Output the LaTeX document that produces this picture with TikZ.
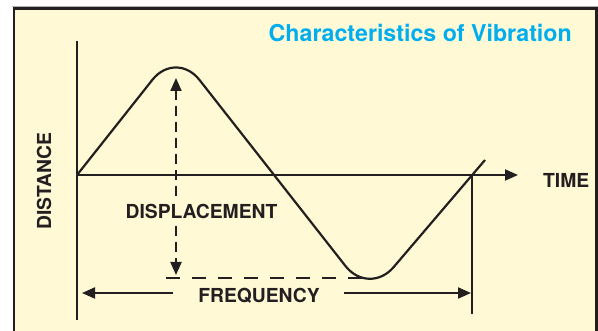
\documentclass[tikz,border=0pt]{standalone}
\usepackage{fontspec}
\setmainfont{TeX Gyre Heros}
\usepackage{xcolor}
\usepackage{tikz}
\usetikzlibrary{arrows.meta, positioning}

\definecolor{cream}{HTML}{FFF9D6}
\definecolor{ink}{HTML}{231F20}
\definecolor{titleblue}{HTML}{00AEEF}

\tikzset{
  axis/.style={draw=ink, line width=2pt},
  tip/.style={-{Triangle[length=13pt,width=11pt]}},
  dashline/.style={draw=ink, line width=2pt, dash pattern=on 10pt off 6pt},
  lbl/.style={inner sep=0pt, anchor=base, text=ink, font=\fontsize{19.3}{21}\selectfont\bfseries}
}

\begin{document}
\begin{tikzpicture}[x=1pt, y=-1pt]
\useasboundingbox (0,0) rectangle (598,331);

% Frame
\begin{scope}
  \clip (0,0) rectangle (598,331);
  \fill[white] (0,0) rectangle (598,331);
  \draw[gray!60, line width=1pt] (12,6.5) -- (598,6.5);
  \draw[fill=cream, draw=ink, line width=2.5pt] (14,8.5) rectangle (596.5,345);
\end{scope}

\node[inner sep=0pt, anchor=base east, text=titleblue, font=\fontsize{23.2}{25}\selectfont\bfseries] (title) at (572,42) {Characteristics of Vibration};

% Axes
\coordinate (O) at (77,175);
\coordinate (ytop) at (77,41);
\coordinate (ybot) at (77,320);
\coordinate (xend) at (518,175);
\draw[axis] (ytop) -- (ybot);
\draw[axis, tip] (O) -- (xend);
\node[lbl, anchor=base west] (time) at (543,188) {TIME};
\node[lbl, rotate=90] (dist) at (51,181) {DISTANCE};

% Wave
\draw[axis, line width=2.2pt, rounded corners=38pt] (O) -- (176,50) -- (369,296) -- (485,160);

% Displacement
\node[lbl] (disp) at (201.5,218.5) {DISPLACEMENT};
\coordinate (dup) at (176,196);
\coordinate (peak) at (176,78);
\coordinate (ddown) at (176,226);
\coordinate (low) at (176,275);
\coordinate (lowl) at (166,278);
\coordinate (lowr) at (362,278);
\draw[dashline, tip] (dup) -- (peak);
\draw[dashline, tip] (ddown) -- (low);
\draw[dashline, dash pattern=on 14pt off 12pt] (lowl) -- (lowr);

% Frequency
\coordinate (cross) at (472,175);
\coordinate (mark) at (472,314);
\draw[axis] (cross) -- (mark);
\node[lbl] (freq) at (259,302.5) {FREQUENCY};
\coordinate (fl1) at (173,293);
\coordinate (fl2) at (82,293);
\coordinate (fr1) at (344,293);
\coordinate (fr2) at (471,293);
\draw[axis, tip] (fl1) -- (fl2);
\draw[axis, tip] (fr1) -- (fr2);
\end{tikzpicture}
\end{document}
